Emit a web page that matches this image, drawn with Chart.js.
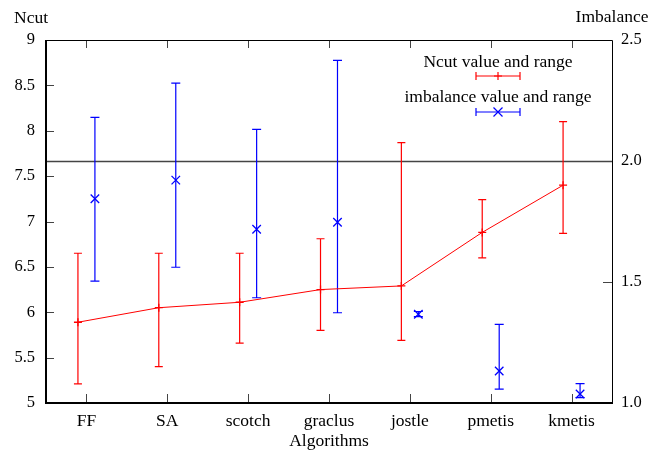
<!DOCTYPE html>
<html>
<head>
<meta charset="utf-8">
<script src="https://cdn.jsdelivr.net/npm/chart.js@4.4.0/dist/chart.umd.min.js"></script>
<style>
  html, body { margin: 0; padding: 0; background: #fff; }
  #wrap { width: 661px; height: 452px; }
</style>
</head>
<body>
<div id="wrap"><canvas id="chart" width="661" height="452"></canvas></div>
<script>
// Partitioning algorithms compared by Ncut and load imbalance
const categories = ['FF', 'SA', 'scotch', 'graclus', 'jostle', 'pmetis', 'kmetis'];

// Ncut: mean value with min / max range (left axis)
const ncutValue = [5.89, 6.05, 6.11, 6.25, 6.29, 6.88, 7.40];
const ncutMin   = [5.21, 5.40, 5.66, 5.80, 5.69, 6.60, 6.87];
const ncutMax   = [6.65, 6.65, 6.65, 6.81, 7.87, 7.24, 8.10];

// Imbalance: mean value with min / max range (right axis)
const imbValue = [1.844, 1.921, 1.718, 1.747, 1.367, 1.132, 1.037];
const imbMin   = [1.504, 1.561, 1.435, 1.373, 1.357, 1.057, 1.022];
const imbMax   = [2.180, 2.322, 2.131, 2.416, 1.378, 1.325, 1.080];

// Axis ticks and the imbalance reference level
const ncutTicks = [5, 5.5, 6, 6.5, 7, 7.5, 8, 8.5, 9];
const imbTicks = [1.0, 1.5, 2.0, 2.5];
const imbLimit = 2.0;

const SERIF = '"Liberation Serif", "Times New Roman", serif';
const NUM_SIZE = 16.5;
const TEXT_SIZE = 17.5;
const RED = '#ff0000';
const BLUE = '#0000ff';
const SHIFT = 0.105; // the two series sit either side of each category

const ncutPoints = ncutValue.map((v, i) => ({ x: i + 1 - SHIFT, y: v }));
const imbPoints = imbValue.map((v, i) => ({ x: i + 1 + SHIFT, y: v }));

function vBar(ctx, x, yA, yB, cap) {
  ctx.beginPath();
  ctx.moveTo(x, yA); ctx.lineTo(x, yB);
  ctx.moveTo(x - cap, yA); ctx.lineTo(x + cap, yA);
  ctx.moveTo(x - cap, yB); ctx.lineTo(x + cap, yB);
  ctx.stroke();
}

function hBar(ctx, xA, xB, y, cap) {
  ctx.beginPath();
  ctx.moveTo(xA, y); ctx.lineTo(xB, y);
  ctx.moveTo(xA, y - cap); ctx.lineTo(xA, y + cap);
  ctx.moveTo(xB, y - cap); ctx.lineTo(xB, y + cap);
  ctx.stroke();
}

const decorations = {
  id: 'decorations',
  beforeDatasetsDraw(chart) {
    const { ctx, chartArea: a, scales } = chart;
    const xs = scales.x, yl = scales.y, yr = scales.y2;
    ctx.save();
    // imbalance limit line across the plot
    const yLim = Math.round(yr.getPixelForValue(imbLimit)) + 0.5;
    ctx.strokeStyle = '#444';
    ctx.lineWidth = 1.4;
    ctx.beginPath(); ctx.moveTo(a.left, yLim); ctx.lineTo(a.right, yLim); ctx.stroke();

    // range bars
    ctx.lineWidth = 1.2;
    ctx.strokeStyle = RED;
    ncutValue.forEach((_, i) => {
      const x = xs.getPixelForValue(i + 1 - SHIFT);
      vBar(ctx, x, yl.getPixelForValue(ncutMax[i]), yl.getPixelForValue(ncutMin[i]), 4);
    });
    ctx.strokeStyle = BLUE;
    imbValue.forEach((_, i) => {
      const x = xs.getPixelForValue(i + 1 + SHIFT);
      vBar(ctx, x, yr.getPixelForValue(imbMax[i]), yr.getPixelForValue(imbMin[i]), 4.5);
    });
    ctx.restore();
  },
  afterDraw(chart) {
    const { ctx, chartArea: a, scales } = chart;
    const xs = scales.x, yl = scales.y, yr = scales.y2;
    ctx.save();

    // inward tick marks
    ctx.strokeStyle = '#444';
    ctx.lineWidth = 1;
    ctx.beginPath();
    yl.ticks.forEach(t => {
      const y = Math.round(yl.getPixelForValue(t.value)) + 0.5;
      ctx.moveTo(a.left, y); ctx.lineTo(a.left + 8, y);
    });
    yr.ticks.forEach(t => {
      const y = Math.round(yr.getPixelForValue(t.value)) + 0.5;
      ctx.moveTo(a.right, y); ctx.lineTo(a.right - 9, y);
    });
    xs.ticks.forEach(t => {
      const x = Math.round(xs.getPixelForValue(t.value)) + 0.5;
      ctx.moveTo(x, a.bottom); ctx.lineTo(x, a.bottom - 9);
      ctx.moveTo(x, a.top); ctx.lineTo(x, a.top + 8);
    });
    ctx.stroke();

    // frame: heavier left and bottom edges
    ctx.strokeStyle = '#000';
    ctx.lineWidth = 1;
    ctx.beginPath();
    ctx.moveTo(a.left, a.top + 0.5); ctx.lineTo(a.right + 0.5, a.top + 0.5);
    ctx.lineTo(a.right + 0.5, a.bottom);
    ctx.stroke();
    ctx.lineWidth = 2;
    ctx.beginPath();
    ctx.moveTo(a.left, a.top); ctx.lineTo(a.left, a.bottom); ctx.lineTo(a.right + 1, a.bottom);
    ctx.stroke();

    // axis titles
    ctx.fillStyle = '#000';
    ctx.font = TEXT_SIZE + 'px ' + SERIF;
    ctx.textBaseline = 'middle';
    ctx.textAlign = 'center';
    ctx.fillText('Ncut', a.left - 15, a.top - 22);
    ctx.fillText('Imbalance', a.right, a.top - 23);
    ctx.fillText('Algorithms', (a.left + a.right) / 2, a.bottom + 38);

    // legend
    const cx = a.right - 114;
    ctx.fillText('Ncut value and range', cx, a.top + 22);
    ctx.fillText('imbalance value and range', cx, a.top + 57);
    ctx.lineWidth = 1.2;
    ctx.strokeStyle = RED;
    hBar(ctx, cx - 22, cx + 22, a.top + 36, 4);
    ctx.beginPath();
    ctx.moveTo(cx - 4, a.top + 36); ctx.lineTo(cx + 4, a.top + 36);
    ctx.moveTo(cx, a.top + 32); ctx.lineTo(cx, a.top + 40);
    ctx.stroke();
    ctx.strokeStyle = BLUE;
    hBar(ctx, cx - 22, cx + 22, a.top + 72, 4);
    ctx.beginPath();
    ctx.moveTo(cx - 4.5, a.top + 67.5); ctx.lineTo(cx + 4.5, a.top + 76.5);
    ctx.moveTo(cx + 4.5, a.top + 67.5); ctx.lineTo(cx - 4.5, a.top + 76.5);
    ctx.stroke();
    ctx.restore();
  }
};

new Chart(document.getElementById('chart'), {
  type: 'line',
  data: {
    datasets: [
      {
        label: 'Ncut value and range',
        data: ncutPoints,
        yAxisID: 'y',
        borderColor: RED,
        backgroundColor: RED,
        borderWidth: 1,
        pointStyle: 'cross',
        pointRadius: 4,
        pointBorderWidth: 1.3,
        pointBorderColor: RED,
        tension: 0
      },
      {
        label: 'imbalance value and range',
        data: imbPoints,
        yAxisID: 'y2',
        showLine: false,
        borderColor: BLUE,
        backgroundColor: BLUE,
        pointStyle: 'crossRot',
        pointRadius: 6,
        pointBorderWidth: 1.3,
        pointBorderColor: BLUE
      }
    ]
  },
  options: {
    responsive: false,
    animation: false,
    layout: { padding: { top: 40, left: 0, right: 0, bottom: 0 } },
    plugins: { legend: { display: false }, tooltip: { enabled: false } },
    scales: {
      x: {
        type: 'linear',
        position: 'bottom',
        min: 0.5,
        max: 7.5,
        afterBuildTicks: s => { s.ticks = categories.map((_, i) => ({ value: i + 1 })); },
        afterFit: s => { s.height = 49; },
        grid: { display: false, drawTicks: false },
        border: { display: false },
        ticks: {
          callback: v => categories[v - 1],
          font: { family: SERIF, size: TEXT_SIZE },
          color: '#000',
          padding: 8,
          maxRotation: 0,
          autoSkip: false
        }
      },
      y: {
        type: 'linear',
        position: 'left',
        min: 5,
        max: 9,
        afterBuildTicks: s => { s.ticks = ncutTicks.map(v => ({ value: v })); },
        afterFit: s => { s.width = 46; },
        grid: { display: false, drawTicks: false },
        border: { display: false },
        ticks: {
          callback: v => String(v),
          font: { family: SERIF, size: NUM_SIZE },
          color: '#000',
          padding: 11
        }
      },
      y2: {
        type: 'linear',
        position: 'right',
        min: 1.0,
        max: 2.5,
        afterBuildTicks: s => { s.ticks = imbTicks.map(v => ({ value: v })); },
        afterFit: s => { s.width = 49; },
        grid: { display: false, drawTicks: false },
        border: { display: false },
        ticks: {
          callback: v => v.toFixed(1),
          font: { family: SERIF, size: NUM_SIZE },
          color: '#000',
          padding: 9
        }
      }
    }
  },
  plugins: [decorations]
});
</script>
</body>
</html>
